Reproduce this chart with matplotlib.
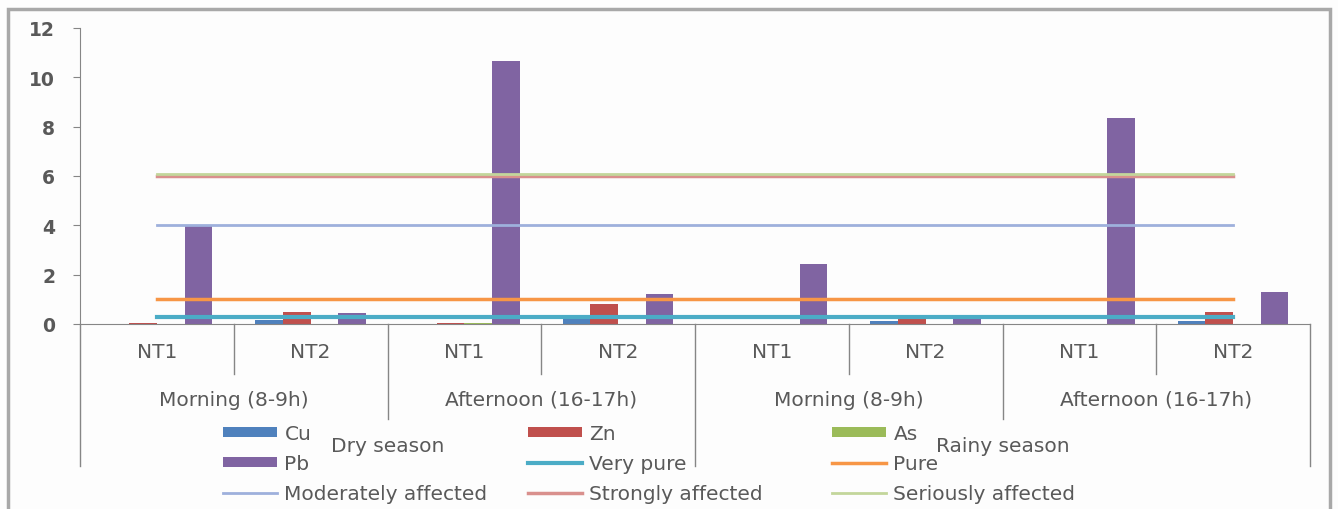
import matplotlib.pyplot as plt
import numpy as np
from matplotlib.patches import Rectangle

# categories: site / time of day / season
sites = ['NT1', 'NT2', 'NT1', 'NT2', 'NT1', 'NT2', 'NT1', 'NT2']
periods = ['Morning (8-9h)', 'Afternoon (16-17h)', 'Morning (8-9h)', 'Afternoon (16-17h)']
seasons = ['Dry season', 'Rainy season']

# metal concentrations
cu = [0.0, 0.18, 0.0, 0.23, 0.0, 0.12, 0.0, 0.13]
zn = [0.05, 0.48, 0.05, 0.81, 0.0, 0.23, 0.0, 0.50]
as_ = [0.02, 0.0, 0.05, 0.0, 0.0, 0.0, 0.0, 0.0]
pb = [3.97, 0.44, 10.65, 1.23, 2.43, 0.30, 8.34, 1.30]

# pollution thresholds
very_pure = 0.3
pure = 1.0
moderately = 4.0
strongly = 6.0
seriously = 6.1

W, H = 1338, 510
fig = plt.figure(figsize=(W / 100, H / 100), dpi=100)
fig.patch.set_facecolor('#fdfdfd')
fig.patches.append(Rectangle((8 / W, -0.1), 1322 / W, 1.1 - 10 / H, transform=fig.transFigure,
                             fill=False, edgecolor='#a8a8a8', linewidth=2.5))

ax_h = 296
ax = fig.add_axes([80 / W, (H - 325) / H, (1310 - 80) / W, ax_h / H])
ax.set_facecolor('none')

grey = '#595959'
fs = 14.5
x = np.arange(len(sites))
w = 0.18

ax.bar(x - 1.5 * w, cu, w, color='#4f81bd', label='Cu')
ax.bar(x - 0.5 * w, zn, w, color='#c0504d', label='Zn')
ax.bar(x + 0.5 * w, as_, w, color='#9bbb59', label='As')
ax.bar(x + 1.5 * w, pb, w, color='#8064a2', label='Pb')

n = len(x)
ax.plot(x, [very_pure] * n, color='#4bacc6', lw=3, label='Very pure')
ax.plot(x, [pure] * n, color='#f79646', lw=2.5, label='Pure')
ax.plot(x, [moderately] * n, color='#9eb0dc', lw=2, label='Moderately affected')
ax.plot(x, [strongly] * n, color='#d9908d', lw=2.5, label='Strongly affected')
ax.plot(x, [seriously] * n, color='#c3d69b', lw=2, label='Seriously affected')

ax.set_xlim(-0.5, n - 0.5)
ax.set_ylim(0, 12)
ax.set_yticks(range(0, 13, 2))
ax.tick_params(axis='y', length=5, color='#868686', pad=13, labelsize=13.5, labelcolor=grey)
for t in ax.get_yticklabels():
    t.set_fontweight('bold')
ax.set_xticks([])
for s in ['top', 'right']:
    ax.spines[s].set_visible(False)
ax.spines['left'].set_color('#868686')
ax.spines['bottom'].set_color('#868686')

# multi-level category axis
tr = ax.get_xaxis_transform()
def below(px):
    return -px / ax_h

def sep(xpos, depth):
    ax.plot([xpos, xpos], [0, below(depth)], transform=tr, color='#868686', lw=1, clip_on=False)

for xs in [0.5, 2.5, 4.5, 6.5]:
    sep(xs, 50)
for xs in [1.5, 5.5]:
    sep(xs, 95)
for xs in [-0.5, 3.5, 7.5]:
    sep(xs, 142)

for i, s in enumerate(sites):
    ax.text(i, below(28), s, transform=tr, ha='center', va='center', fontsize=fs, color=grey)
for i, p in enumerate(periods):
    ax.text(2 * i + 0.5, below(75), p, transform=tr, ha='center', va='center', fontsize=fs, color=grey)
for i, s in enumerate(seasons):
    ax.text(4 * i + 1.5, below(122), s, transform=tr, ha='center', va='center', fontsize=fs, color=grey)

# legend: three equal-width columns
h, l = ax.get_legend_handles_labels()
hd = dict(zip(l, h))
columns = [['Cu', 'Pb', 'Moderately affected'],
           ['Zn', 'Very pure', 'Strongly affected'],
           ['As', 'Pure', 'Seriously affected']]
for cx, col in zip([223, 528, 832], columns):
    leg = fig.legend([hd[k] for k in col], col, loc='upper left',
                     bbox_to_anchor=(cx / W, (H - 425) / H), frameon=False, fontsize=fs,
                     labelcolor=grey, handlelength=2.7, handleheight=0.4, handletextpad=0.35,
                     labelspacing=0.55, borderpad=0, borderaxespad=0)

fig.savefig('out.png', dpi=100, facecolor=fig.get_facecolor())
